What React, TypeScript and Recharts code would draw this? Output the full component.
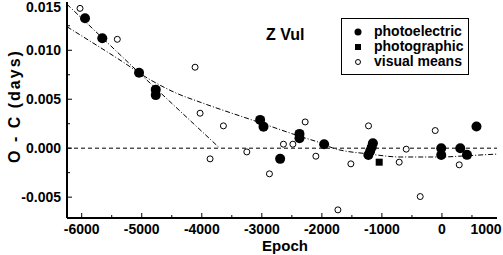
import React from 'react';
import {
  ComposedChart,
  Scatter,
  Line,
  XAxis,
  YAxis,
  ReferenceLine,
} from 'recharts';

// epochs / O-C values
const photoelectric = [
  { E: -5945, V: 0.01327 },
  { E: -5657, V: 0.01122 },
  { E: -5045, V: 0.00771 },
  { E: -4767, V: 0.00598 },
  { E: -4767, V: 0.00542 },
  { E: -3028, V: 0.00289 },
  { E: -2972, V: 0.0022 },
  { E: -2695, V: -0.00109 },
  { E: -2373, V: 0.00146 },
  { E: -2373, V: 0.00102 },
  { E: -1962, V: 0.00041 },
  { E: -1150, V: 0.0005 },
  { E: -1170, V: 0.0001 },
  { E: -1195, V: -0.0003 },
  { E: -1225, V: -0.0007 },
  { E: -12, V: 0.0 },
  { E: -12, V: -0.0007 },
  { E: 305, V: 0.0 },
  { E: 417, V: -0.00068 },
  { E: 575, V: 0.00222 },
];

const photographic = [{ E: -1045, V: -0.00143 }];

const visualMeans = [
  { E: -6028, V: 0.01428 },
  { E: -5407, V: 0.01112 },
  { E: -4112, V: 0.00827 },
  { E: -4028, V: 0.00357 },
  { E: -3862, V: -0.00109 },
  { E: -3640, V: 0.00228 },
  { E: -3250, V: -0.00038 },
  { E: -2873, V: -0.00262 },
  { E: -2640, V: 0.00041 },
  { E: -2483, V: 0.00041 },
  { E: -2278, V: 0.00268 },
  { E: -2100, V: -0.00082 },
  { E: -1733, V: -0.0063 },
  { E: -1517, V: -0.0016 },
  { E: -1223, V: 0.00228 },
  { E: -712, V: -0.00143 },
  { E: -595, V: -0.0001 },
  { E: -362, V: -0.00494 },
  { E: -112, V: 0.0018 },
  { E: 288, V: -0.0017 },
];

// the two dash-dot fits
const steepFit = [
  { E: -6245, V: 0.0147 },
  { E: -5045, V: 0.0077 },
  { E: -3700, V: 0.0 },
];

const shallowFit = [
  { E: -6245, V: 0.0124 },
  { E: -5362, V: 0.009 },
  { E: -4862, V: 0.007 },
  { E: -4417, V: 0.0056 },
  { E: -4028, V: 0.0047 },
  { E: -3028, V: 0.0026 },
  { E: -2362, V: 0.0012 },
  { E: -1962, V: 0.0004 },
  { E: -1812, V: 0.0 },
  { E: -1200, V: -0.0006 },
  { E: -695, V: -0.0009 },
  { E: -28, V: -0.0009 },
  { E: 472, V: -0.00075 },
  { E: 917, V: -0.0006 },
];

const xTicks = [-6000, -5500, -5000, -4500, -4000, -3500, -3000, -2500, -2000, -1500, -1000, -500, 0, 500, 1000];
const yTicks = [-0.005, -0.0025, 0, 0.0025, 0.005, 0.0075, 0.01, 0.0125, 0.015];

const X_DOMAIN = [-6245, 917];
const Y_DOMAIN = [-0.00713, 0.01493];

const FONT = '"Liberation Sans", Arial, Helvetica, sans-serif';

const isMajorX = (v: number) => v % 1000 === 0;
const isMajorY = (v: number) => Math.abs(Math.round(v / 0.005) * 0.005 - v) < 1e-9;
const inX = (v: number) => v > X_DOMAIN[0] && v < X_DOMAIN[1];
const inY = (v: number) => v > Y_DOMAIN[0] && v < Y_DOMAIN[1];

const BottomTick = (props: any) => {
  const { x, y, payload } = props;
  const v = payload.value;
  const major = isMajorX(v);
  return (
    <g>
      {inX(v) && <line x1={x} y1={y} x2={x} y2={y - (major ? 5 : 3)} stroke="#000" />}
      {major && (
        <text x={Math.min(x, 486)} y={y + 16} textAnchor="middle" fontFamily={FONT} fontWeight="bold" fontSize={14} fill="#000">
          {v}
        </text>
      )}
    </g>
  );
};

const TopTick = (props: any) => {
  const { x, y, payload } = props;
  const v = payload.value;
  if (!inX(v)) return <g />;
  return <line x1={x} y1={y} x2={x} y2={y + (isMajorX(v) ? 5 : 3)} stroke="#000" />;
};

const LeftTick = (props: any) => {
  const { x, y, payload } = props;
  const v = payload.value;
  const major = isMajorY(v);
  return (
    <g>
      {inY(v) && <line x1={x} y1={y} x2={x + (major ? 5 : 3)} y2={y} stroke="#000" />}
      {major && (
        <text x={x - 6} y={Math.max(y, 7) + 5} textAnchor="end" fontFamily={FONT} fontWeight="bold" fontSize={14} fill="#000">
          {v.toFixed(3)}
        </text>
      )}
    </g>
  );
};

const RightTick = (props: any) => {
  const { x, y, payload } = props;
  const v = payload.value;
  if (!inY(v)) return <g />;
  return <line x1={x} y1={y} x2={x - (isMajorY(v) ? 5 : 3)} y2={y} stroke="#000" />;
};

const FilledDot = (props: any) => <circle cx={props.cx} cy={props.cy} r={5} fill="#000" />;
const SquareDot = (props: any) => <rect x={props.cx - 3.5} y={props.cy - 3.5} width={7} height={7} fill="#000" />;
const OpenDot = (props: any) => (
  <circle cx={props.cx} cy={props.cy} r={3} fill="#fff" stroke="#000" strokeWidth={1} />
);

const legendRows = [
  { label: 'photoelectric', marker: <circle cx={6} cy={6} r={3.5} fill="#000" /> },
  { label: 'photographic', marker: <rect x={3} y={3} width={6} height={6} fill="#000" /> },
  { label: 'visual means', marker: <circle cx={6} cy={6} r={2.5} fill="#fff" stroke="#000" /> },
];

const axisLine = { stroke: '#000', strokeWidth: 2 };

export default function App() {
  return (
    <div style={{ position: 'absolute', left: 0, top: 0, width: 503, height: 255, background: '#fff', fontFamily: FONT }}>
      <ComposedChart width={503} height={255} margin={{ top: 2, right: 6, bottom: 0, left: 0 }}>
        <XAxis
          dataKey="E"
          type="number"
          domain={X_DOMAIN}
          ticks={xTicks}
          interval={0}
          allowDataOverflow
          height={37}
          tickSize={0}
          tickMargin={0}
          tickLine={false}
          axisLine={axisLine}
          tick={<BottomTick />}
          label={({ viewBox }: any) => (
            <text x={viewBox.x + viewBox.width / 2 + 3} y={viewBox.y + 33} textAnchor="middle" fontFamily={FONT} fontWeight="bold" fontSize={15} fill="#000">
              Epoch
            </text>
          )}
        />
        <XAxis
          xAxisId="top"
          orientation="top"
          type="number"
          domain={X_DOMAIN}
          ticks={xTicks}
          interval={0}
          allowDataOverflow
          height={0}
          tickSize={0}
          tickMargin={0}
          tickLine={false}
          axisLine={axisLine}
          tick={<TopTick />}
        />
        <YAxis
          dataKey="V"
          type="number"
          domain={Y_DOMAIN}
          ticks={yTicks}
          interval={0}
          allowDataOverflow
          width={67}
          tickSize={0}
          tickMargin={0}
          tickLine={false}
          axisLine={axisLine}
          tick={<LeftTick />}
          label={({ viewBox }: any) => {
            const cx = viewBox.x + 14;
            const cy = 106;
            return (
              <text
                x={cx}
                y={cy}
                transform={`rotate(-90 ${cx} ${cy})`}
                textAnchor="middle"
                dominantBaseline="central"
                fontFamily={FONT}
                fontWeight="bold"
                fontSize={16}
                letterSpacing={2}
                fill="#000"
              >
                O - C (days)
              </text>
            );
          }}
        />
        <YAxis
          yAxisId="right"
          orientation="right"
          type="number"
          domain={Y_DOMAIN}
          ticks={yTicks}
          interval={0}
          allowDataOverflow
          width={0}
          tickSize={0}
          tickMargin={0}
          tickLine={false}
          axisLine={axisLine}
          tick={<RightTick />}
        />
        <ReferenceLine y={0} stroke="#000" strokeWidth={1} strokeDasharray="4 3" />
        <Line data={steepFit} dataKey="V" type="linear" dot={false} stroke="#000" strokeWidth={1} strokeDasharray="5 2 1 2" isAnimationActive={false} />
        <Line data={shallowFit} dataKey="V" type="monotone" dot={false} stroke="#000" strokeWidth={1} strokeDasharray="5 2 1 2" isAnimationActive={false} />
        <Scatter data={visualMeans} dataKey="V" shape={<OpenDot />} isAnimationActive={false} />
        <Scatter data={photographic} dataKey="V" shape={<SquareDot />} isAnimationActive={false} />
        <Scatter data={photoelectric} dataKey="V" shape={<FilledDot />} isAnimationActive={false} />
      </ComposedChart>

      <div style={{ position: 'absolute', left: 266, top: 27, fontSize: 16, lineHeight: '16px', fontWeight: 'bold', color: '#000' }}>
        Z Vul
      </div>

      <div
        style={{
          position: 'absolute',
          left: 341,
          top: 18,
          width: 128,
          height: 57,
          boxSizing: 'border-box',
          border: '1px solid #000',
          background: '#fff',
          paddingTop: 5,
        }}
      >
        {legendRows.map((row) => (
          <div key={row.label} style={{ display: 'flex', alignItems: 'center', height: 15, fontSize: 14, lineHeight: '15px', fontWeight: 'bold', color: '#000' }}>
            <svg width={12} height={12} style={{ marginLeft: 10, marginRight: 10 }}>
              {row.marker}
            </svg>
            <span>{row.label}</span>
          </div>
        ))}
      </div>
    </div>
  );
}
